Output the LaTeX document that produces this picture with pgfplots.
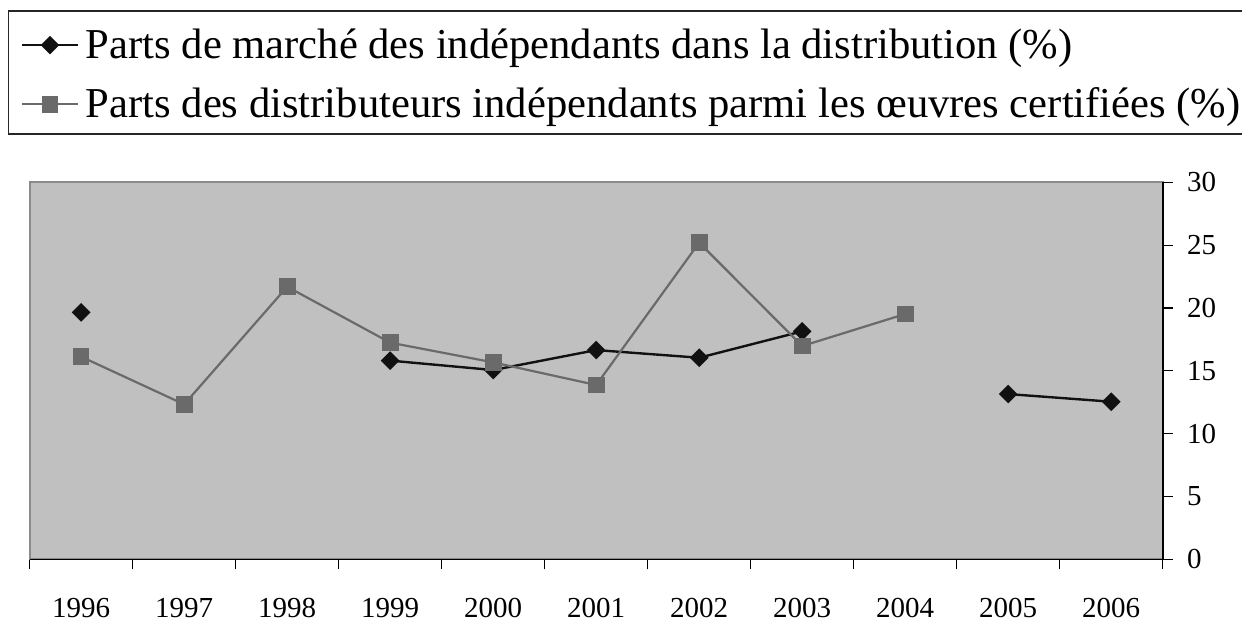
\documentclass[border=0pt]{standalone}
\usepackage{fontspec}
\setmainfont{Liberation Serif}
\usepackage{pgfplots}
\pgfplotsset{compat=1.18}
\definecolor{plotbg}{HTML}{C0C0C0}
\definecolor{sgray}{HTML}{6A6A6A}
\definecolor{sblack}{HTML}{111111}
\definecolor{frm}{HTML}{8A8A8A}
\begin{document}
\begin{tikzpicture}
\begin{axis}[
  scale only axis, width=566.5pt, height=188.5pt,
  at={(0,0)}, anchor=south west,
  xmin=-0.5, xmax=10.5, ymin=0, ymax=30,
  axis background/.style={fill=plotbg},
  axis line style={frm, line width=1pt},
  xtick={0,1,2,3,4,5,6,7,8,9,10},
  xticklabels={1996,1997,1998,1999,2000,2001,2002,2003,2004,2005,2006},
  major x tick style={draw=none},
  minor xtick={-0.5,0.5,1.5,2.5,3.5,4.5,5.5,6.5,7.5,8.5,9.5,10.5},
  minor x tick style={black, line width=0.6pt},
  minor tick length=5pt,
  xtick pos=bottom,
  ytick={0,5,10,15,20,25,30},
  ytick pos=right, yticklabel pos=right,
  major y tick style={black, line width=0.6pt},
  major tick length=5pt,
  tick align=outside,
  /pgf/number format/assume math mode=true,
  ticklabel style={font=\fontsize{14.5}{17}\selectfont},
  xticklabel style={anchor=base, inner sep=0pt, yshift=-23.85pt},
  yticklabel style={anchor=west, inner sep=0pt, xshift=7pt},
  unbounded coords=jump,
  clip=false,
  legend style={at={(-0.00794,1.4138)}, anchor=north west, draw=none, fill=none,
    inner sep=0pt, font=\fontsize{21.3}{25}\selectfont, row sep=8.2pt, column sep=3.5pt,
    nodes={inner sep=0pt, text height=16pt, text depth=5.4pt}},
  legend cell align=left,
  legend image code/.code={\draw[mark repeat=2,mark phase=2] plot coordinates {(0pt,1.5pt) (13.85pt,1.5pt) (27.7pt,1.5pt)};},
  after end axis/.code={\draw[black, line width=0.8pt] (rel axis cs:0,0) -- (rel axis cs:1,0) -- (rel axis cs:1,1);},
]
\addplot[sblack, line width=1.2pt, mark=square*, mark size=2.7pt, mark options={rotate=45, solid, fill=sblack}] coordinates {
 (0,19.65) (1,nan) (2,nan) (3,15.81) (4,15.06) (5,16.65) (6,16.04) (7,18.14) (8,nan) (9,13.15) (10,12.54)};
\addlegendentry{Parts de marché des indépendants dans la distribution (\%)}
\addplot[sgray, line width=1.1pt, mark=square*, mark size=3.6pt, mark options={solid, fill=sgray, draw=sgray}] coordinates {
 (0,16.12) (1,12.33) (2,21.69) (3,17.24) (4,15.67) (5,13.87) (6,25.2) (7,16.97) (8,19.52) (9,nan) (10,nan)};
\addlegendentry{Parts des distributeurs indépendants parmi les œuvres certifiées (\%)}
\end{axis}
\draw[line width=0.6pt, black!85] (700pt,274.15pt) -- (-10.5pt,274.15pt) -- (-10.5pt,212.65pt) -- (700pt,212.65pt);
\pgfresetboundingbox
\useasboundingbox (-14.85pt,-30.85pt) rectangle (606.15pt,279.65pt);
\end{tikzpicture}
\end{document}
